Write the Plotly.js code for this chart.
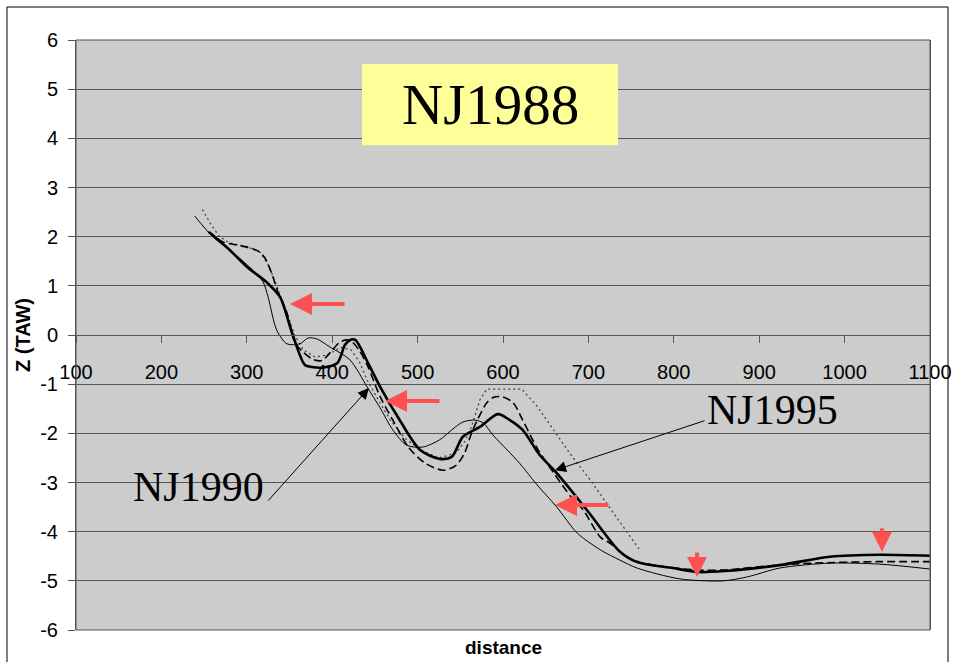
<!DOCTYPE html>
<html>
<head>
<meta charset="utf-8">
<script src="https://cdn.plot.ly/plotly-3.0.1.min.js"></script>
<style>html,body{margin:0;padding:0;background:#fff;}#chart{width:954px;height:662px;}</style>
</head>
<body>
<div id="chart"></div>
<script>
// ---- data ----
// NJ1990 : thin solid line
const distNJ1990 = [239,260,284,307,319,325,335,347,362,372,382,397,421,441,456,471,487,506,526,540,553,567,577,588,605,620,640,663,687,714,737,757,807,858,886,924,983,1041,1100];
const zNJ1990    = [2.42,2.0,1.67,1.32,1.08,0.77,0.10,-0.18,-0.18,-0.06,-0.08,-0.24,-0.51,-1.06,-1.48,-1.93,-2.24,-2.28,-2.13,-1.93,-1.77,-1.73,-1.79,-2.03,-2.34,-2.62,-3.05,-3.5,-4.03,-4.37,-4.58,-4.74,-4.96,-5.0,-4.92,-4.74,-4.64,-4.66,-4.76];

// NJ1995 : thick solid line
const distNJ1995 = [256,280,300,324,339,353,368,376,390,406,415,421,427,442,456,479,503,526,540,553,573,594,608,623,643,663,700,737,757,799,828,860,924,983,1041,1100];
const zNJ1995    = [2.09,1.73,1.39,1.06,0.77,0.04,-0.61,-0.65,-0.66,-0.57,-0.2,-0.10,-0.10,-0.57,-1.05,-1.73,-2.34,-2.52,-2.48,-2.07,-1.87,-1.61,-1.73,-1.93,-2.44,-2.81,-3.6,-4.41,-4.62,-4.74,-4.82,-4.8,-4.68,-4.51,-4.47,-4.49];

// dashed profile
const distDashed = [255,265,272,292,313,321,329,337,347,356,366,378,388,398,408,416,422,432,442,456,470,490,510,530,545,555,563,570,581,590,600,612,623,640,660,680,694,714,725,745,760,792,828,858,921,963,1038,1100];
const zDashed    = [2.1,1.97,1.89,1.82,1.71,1.57,1.26,0.85,0.45,-0.14,-0.35,-0.5,-0.52,-0.35,-0.16,-0.1,-0.12,-0.32,-0.65,-1.25,-1.7,-2.3,-2.62,-2.75,-2.65,-2.4,-2.0,-1.73,-1.38,-1.26,-1.26,-1.38,-1.73,-2.3,-2.82,-3.3,-3.56,-4.11,-4.23,-4.51,-4.62,-4.72,-4.78,-4.78,-4.68,-4.64,-4.61,-4.61];

// dotted profile
const distDotted = [248,258,268,280,300,316,326,336,346,356,366,380,395,410,422,432,441,455,468,485,505,525,545,556,563,573,581,622,640,660,680,700,720,740,760];
const zDotted    = [2.55,2.25,2.0,1.87,1.8,1.68,1.4,0.95,0.5,0.0,-0.3,-0.45,-0.4,-0.25,-0.3,-0.55,-0.92,-1.35,-1.73,-2.1,-2.35,-2.5,-2.4,-2.15,-1.87,-1.32,-1.1,-1.1,-1.45,-1.95,-2.45,-2.9,-3.4,-3.88,-4.37];

const xTicks = [100,200,300,400,500,600,700,800,900,1000,1100];
const yTicks = [-6,-5,-4,-3,-2,-1,0,1,2,3,4,5,6];

const FONT = 'Liberation Sans, Arial, sans-serif';
const SERIF = 'Liberation Serif, Times New Roman, serif';
const RED = '#ff5050';

const traces = [
  {x: distDotted, y: zDotted, name: 'profile (dotted)', mode: 'lines',
   line: {color: '#444', width: 1.3, dash: '2px,3px', shape: 'linear'}},
  {x: distDashed, y: zDashed, name: 'profile (dashed)', mode: 'lines',
   line: {color: '#000', width: 1.6, dash: '8px,4px', shape: 'spline', smoothing: 0.8}},
  {x: distNJ1990, y: zNJ1990, name: 'NJ1990', mode: 'lines',
   line: {color: '#000', width: 1, shape: 'spline', smoothing: 0.8}},
  {x: distNJ1995, y: zNJ1995, name: 'NJ1995', mode: 'lines',
   line: {color: '#000', width: 2.6, shape: 'spline', smoothing: 0.8}}
];

function redArrow(x, y, ax, ay, size) {
  return {x: x, y: y, xref: 'x', yref: 'y', ax: ax, ay: ay, text: '', showarrow: true,
          arrowcolor: RED, arrowwidth: 4, arrowhead: 2, arrowsize: size, standoff: 0, startstandoff: 0};
}

const layout = {
  width: 954, height: 662,
  margin: {l: 76, r: 24, t: 40, b: 32, pad: 0},
  paper_bgcolor: '#ffffff',
  plot_bgcolor: '#cccccc',
  showlegend: false,
  font: {family: FONT, color: '#000', size: 20},
  xaxis: {
    range: [100, 1100], tickvals: xTicks, ticktext: xTicks.map(String),
    anchor: 'free', position: 0.5, side: 'bottom',
    showgrid: false, zeroline: false, showline: true, linecolor: '#555', linewidth: 1,
    ticks: 'outside', ticklen: 7, tickcolor: '#555', tickwidth: 1,
    ticklabelstandoff: 12,
    tickfont: {family: FONT, size: 20, color: '#000'}
  },
  yaxis: {
    range: [-6, 6], tickvals: yTicks, ticktext: yTicks.map(String),
    showgrid: true, gridcolor: '#555', gridwidth: 1, zeroline: false,
    showline: true, linecolor: '#555', linewidth: 1, mirror: true,
    ticks: 'outside', ticklen: 7, tickcolor: '#555', tickwidth: 1,
    ticklabelstandoff: 6,
    tickfont: {family: FONT, size: 20, color: '#000'},
    title: {text: 'Z (TAW)', font: {family: FONT, size: 20, color: '#000', weight: 'bold'}, standoff: 4}
  },
  shapes: [
    {type: 'rect', xref: 'paper', yref: 'paper', x0: 0, x1: 1, y0: 0, y1: 1,
     line: {color: '#555', width: 1}, fillcolor: 'rgba(0,0,0,0)', layer: 'above'},
    {type: 'rect', xref: 'paper', yref: 'paper', x0: -0.0808, x1: 1.0211, y0: -0.08, y1: 1.0559,
     line: {color: '#000', width: 1}, fillcolor: 'rgba(0,0,0,0)', layer: 'below'},
    {type: 'rect', xref: 'x', yref: 'y', x0: 434.9, x1: 734.7, y0: 3.86, y1: 5.51,
     line: {width: 0}, fillcolor: '#ffff99', layer: 'above'}
  ],
  annotations: [
    {x: 584.8, y: 4.68, xref: 'x', yref: 'y', text: 'NJ1988', showarrow: false,
     font: {family: SERIF, size: 57, color: '#000'}},
    {x: 915, y: -1.53, xref: 'x', yref: 'y', text: 'NJ1995', showarrow: false,
     font: {family: SERIF, size: 42, color: '#000'}},
    {x: 243, y: -3.09, xref: 'x', yref: 'y', text: 'NJ1990', showarrow: false,
     font: {family: SERIF, size: 42, color: '#000'}},
    {x: 660.9, y: -2.75, xref: 'x', yref: 'y', ax: 151, ay: -50, text: '', showarrow: true,
     arrowcolor: '#000', arrowwidth: 1, arrowhead: 2, arrowsize: 2.2, standoff: 0},
    {x: 443, y: -1.08, xref: 'x', yref: 'y', ax: -102, ay: 114, text: '', showarrow: true,
     arrowcolor: '#000', arrowwidth: 1, arrowhead: 2, arrowsize: 2.2, standoff: 0},
    redArrow(350.6, 0.63, 56, 0, 1.1),
    redArrow(461.8, -1.34, 56, 0, 1.1),
    redArrow(660.9, -3.46, 55, 0, 1.1),
    redArrow(827.2, -4.92, 0, -26, 1.0),
    redArrow(1043.8, -4.41, 0, -25, 1.0),
    {x: 0.5, y: -0.0305, xref: 'paper', yref: 'paper', yanchor: 'middle', text: '<b>distance</b>', showarrow: false,
     font: {family: FONT, size: 19, color: '#000'}}
  ]
};

Plotly.newPlot('chart', traces, layout, {staticPlot: true, displayModeBar: false});
</script>
</body>
</html>
